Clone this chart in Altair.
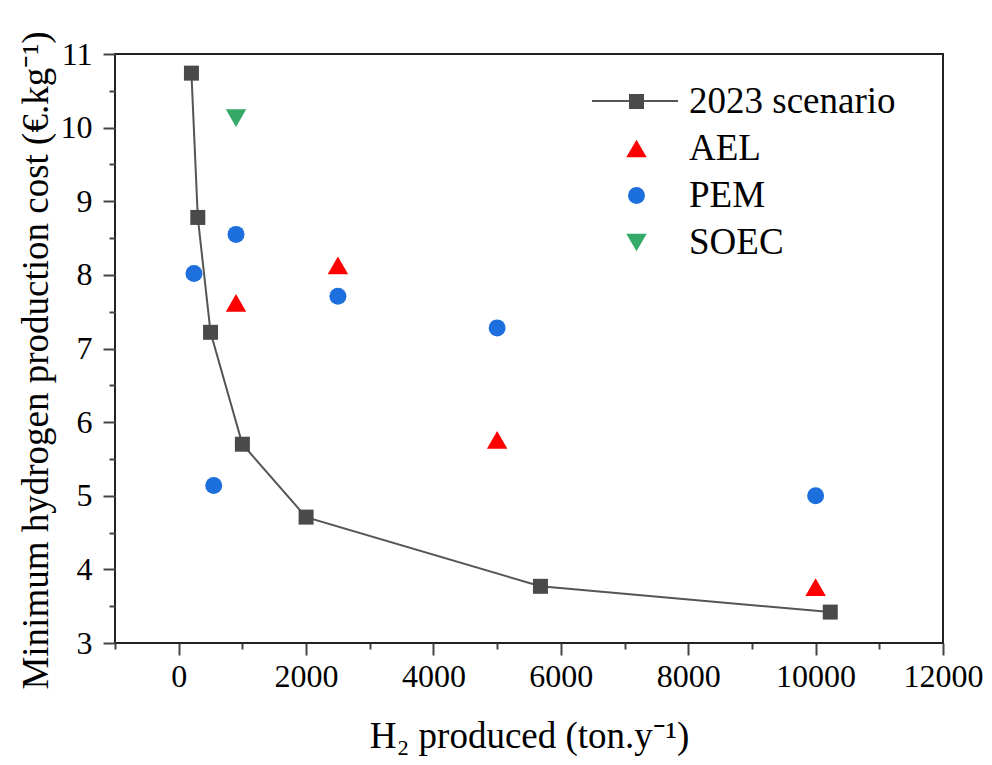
import altair as alt
import pandas as pd

# ---- data ----
scenario_x = [200, 300, 500, 1000, 2000, 5680, 10230]
scenario_y = [10.74, 8.78, 7.22, 5.70, 4.71, 3.77, 3.42]
ael_x = [900, 2500, 5000, 10000]
ael_y = [7.62, 8.13, 5.76, 3.76]
pem_x = [240, 900, 550, 2500, 5000, 10000]
pem_y = [8.02, 8.55, 5.14, 7.71, 7.28, 5.00]
soec_x = [900]
soec_y = [10.13]

series_names = ["2023 scenario", "AEL", "PEM", "SOEC"]
series_colors = ["#4a4a4a", "#ff0000", "#1e6fde", "#35aa68"]
series_shapes = ["square", "triangle-up", "circle", "triangle-down"]
series_sizes = [225, 420, 289, 420]

x_ticks = [-1000, 0, 1000, 2000, 3000, 4000, 5000, 6000, 7000, 8000, 9000, 10000, 11000, 12000]
y_ticks = [3, 3.5, 4, 4.5, 5, 5.5, 6, 6.5, 7, 7.5, 8, 8.5, 9, 9.5, 10, 10.5, 11]

x_title = "H\u2082 produced (ton.y\u207b\u00b9)"
y_title = "Minimum hydrogen production cost (\u20ac.kg\u207b\u00b9)"

rows = []
for name, xs, ys in [("2023 scenario", scenario_x, scenario_y), ("AEL", ael_x, ael_y),
                     ("PEM", pem_x, pem_y), ("SOEC", soec_x, soec_y)]:
    for a, b in zip(xs, ys):
        rows.append({"series": name, "x": a, "y": b})
df = pd.DataFrame(rows)
scen = df[df.series == "2023 scenario"]

FONT = "Liberation Serif"
W, H = 828, 589

x_enc = alt.X(
    "x:Q",
    scale=alt.Scale(domain=[-1000, 12000], nice=False, zero=False),
    axis=alt.Axis(
        values=x_ticks,
        labelExpr="datum.value % 2000 === 0 && datum.value >= 0 ? '' + datum.value : ''",
        tickSize={"condition": {"test": "datum.value % 2000 === 0", "value": 12}, "value": 6},
        tickWidth=2, tickColor="#444", domain=False, grid=False,
        labelFont=FONT, labelFontSize=32, labelColor="black", labelPadding=6,
        labelFlush=False, labelOverlap=False,
        title=x_title, titleFont=FONT, titleFontSize=37, titleFontWeight="normal",
        titleColor="black", titleX=W / 2, titleY=104, titleBaseline="alphabetic",
    ),
)
y_enc = alt.Y(
    "y:Q",
    scale=alt.Scale(domain=[3, 11], nice=False, zero=False),
    axis=alt.Axis(
        values=y_ticks,
        labelExpr="datum.value % 1 === 0 ? '' + datum.value : ''",
        tickSize={"condition": {"test": "datum.value % 1 === 0", "value": 12}, "value": 6},
        tickWidth=2, tickColor="#444", domain=False, grid=False,
        labelFont=FONT, labelFontSize=32, labelColor="black", labelPadding=11,
        labelFlush=False, labelOverlap=False,
        title=y_title, titleFont=FONT, titleFontSize=37, titleFontWeight="normal",
        titleColor="black", titleX=-60, titleY=306,
    ),
)

line = alt.Chart(scen).mark_line(color="#555555", strokeWidth=2).encode(x=x_enc, y=y_enc)

legend = alt.Legend(
    title=None, orient="none", legendX=503, legendY=29, direction="vertical",
    labelFont=FONT, labelFontSize=37, labelColor="black", labelOffset=34, labelLimit=0,
    rowPadding=9, padding=0, symbolStrokeWidth=0, symbolOpacity=1,
)

points = alt.Chart(df).mark_point(filled=True, opacity=1).encode(
    x=x_enc, y=y_enc,
    color=alt.Color("series:N", scale=alt.Scale(domain=series_names, range=series_colors), legend=legend),
    shape=alt.Shape("series:N", scale=alt.Scale(domain=series_names, range=series_shapes), legend=legend),
    size=alt.Size("series:N", scale=alt.Scale(type="ordinal", domain=series_names, range=series_sizes), legend=legend),
)

legend_line = alt.Chart(pd.DataFrame({"k": [0]})).mark_rule(color="#555555", strokeWidth=2).encode(
    x=alt.value(477), x2=alt.value(563), y=alt.value(47)
)

chart = alt.layer(line, legend_line, points).properties(
    width=W, height=H,
    padding={"left": 107, "top": 46, "right": 41, "bottom": 114},
    autosize=alt.AutoSizeParams(type="none"),
).configure_view(stroke="#222222", strokeWidth=2)

chart.save("out.html", embed_options={"renderer": "svg", "actions": False})
